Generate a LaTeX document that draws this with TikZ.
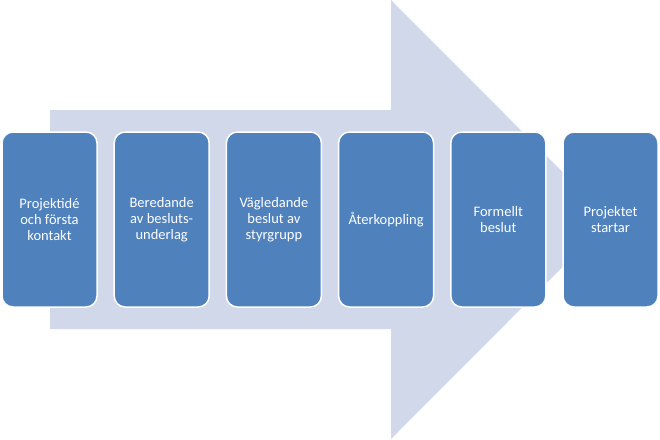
\documentclass[tikz,border=0pt]{standalone}
\usepackage{fontspec}
\setmainfont{Carlito}
\usetikzlibrary{positioning}
\definecolor{stepblue}{HTML}{4F81BD}
\definecolor{arrowblue}{HTML}{D0D8EA}

\begin{document}
\begin{tikzpicture}[x=1pt, y=-1pt, node distance=112.2pt,
  stepbox/.style={draw=white, line width=1.5pt, fill=stepblue, rounded corners=11pt,
    minimum width=95pt, minimum height=175pt, text=white, align=center,
    font=\fontsize{14.5}{16}\selectfont}]

  \useasboundingbox (0,0) rectangle (660,439);

  % Big arrow behind
  \fill[arrowblue] (50,110) -- (391,110) -- (391,0) -- (610,219.5) -- (391,439)
    -- (391,329) -- (50,329) -- cycle;

  % Steps
  \node[stepbox] (S1) at (49.5,219.5) {Projektidé\\och första\\kontakt};
  \node[stepbox, right of=S1] (S2) {Beredande\\av besluts-\\underlag};
  \node[stepbox, right of=S2] (S3) {Vägledande\\beslut av\\styrgrupp};
  \node[stepbox, right of=S3] (S4) {Återkoppling};
  \node[stepbox, right of=S4] (S5) {Formellt\\beslut};
  \node[stepbox, right of=S5] (S6) {Projektet\\startar};

\end{tikzpicture}
\end{document}
